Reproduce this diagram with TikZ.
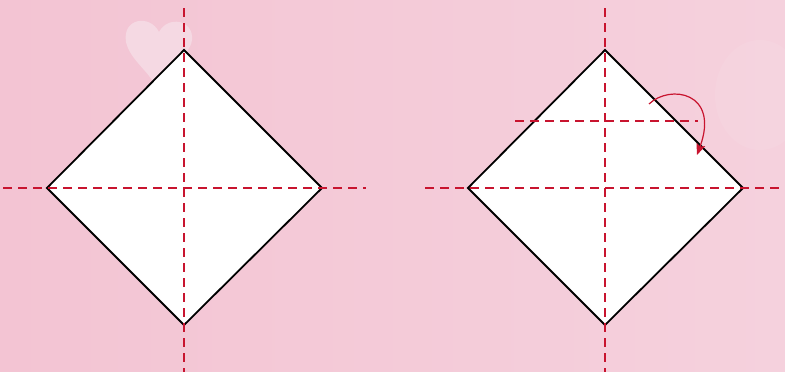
\documentclass[tikz,border=0pt]{standalone}
\usetikzlibrary{arrows.meta}
\definecolor{bgA}{HTML}{F3C4D3}
\definecolor{bgB}{HTML}{F5D1DD}
\definecolor{heartc}{HTML}{F5D9E3}
\definecolor{foldred}{HTML}{C8142F}
\tikzset{
  foldline/.style={draw=foldred, line width=1.9pt, dash pattern=on 9pt off 6pt},
  paper/.style={draw=black, fill=white, line width=1.8pt, line join=miter},
  foldarrow/.style={draw=foldred, line width=1.2pt, -{Stealth[length=11pt,width=9pt,inset=2pt]}}
}
\begin{document}
\begin{tikzpicture}[x=1pt,y=-1pt]
\useasboundingbox (0,0) rectangle (785,372);
\shade[left color=bgA, right color=bgB] (0,0) rectangle (785,372);
\fill[white, opacity=0.07] (760,95) ellipse (45 and 55);
% heart
\fill[heartc] (159,32) .. controls (150,14) and (122,18) .. (126,42)
  .. controls (130,60) and (150,72) .. (155,86)
  .. controls (165,70) and (190,56) .. (192,40)
  .. controls (194,20) and (168,15) .. (159,32) -- cycle;
% left diamond
\coordinate (LT) at (184,50); \coordinate (LL) at (47,188);
\coordinate (LR) at (322,188); \coordinate (LB) at (184,325);
\draw[paper] (LT) -- (LR) -- (LB) -- (LL) -- cycle;
\draw[foldline] (184,8) -- (184,372);
\draw[foldline] (3,188) -- (366,188);
% right diamond
\coordinate (RT) at (605,50); \coordinate (RL) at (468,188);
\coordinate (RR) at (743,188); \coordinate (RB) at (605,325);
\draw[paper] (RT) -- (RR) -- (RB) -- (RL) -- cycle;
\draw[foldline] (605,8) -- (605,372);
\draw[foldline] (425,188) -- (785,188);
\draw[foldline] (515,121) -- (698,121);
% arrow
\coordinate (AS) at (649,104);
\coordinate (AE) at (697,155);
\draw[foldarrow] (AS) .. controls (670,84) and (720,92) .. (AE);
\end{tikzpicture}
\end{document}
